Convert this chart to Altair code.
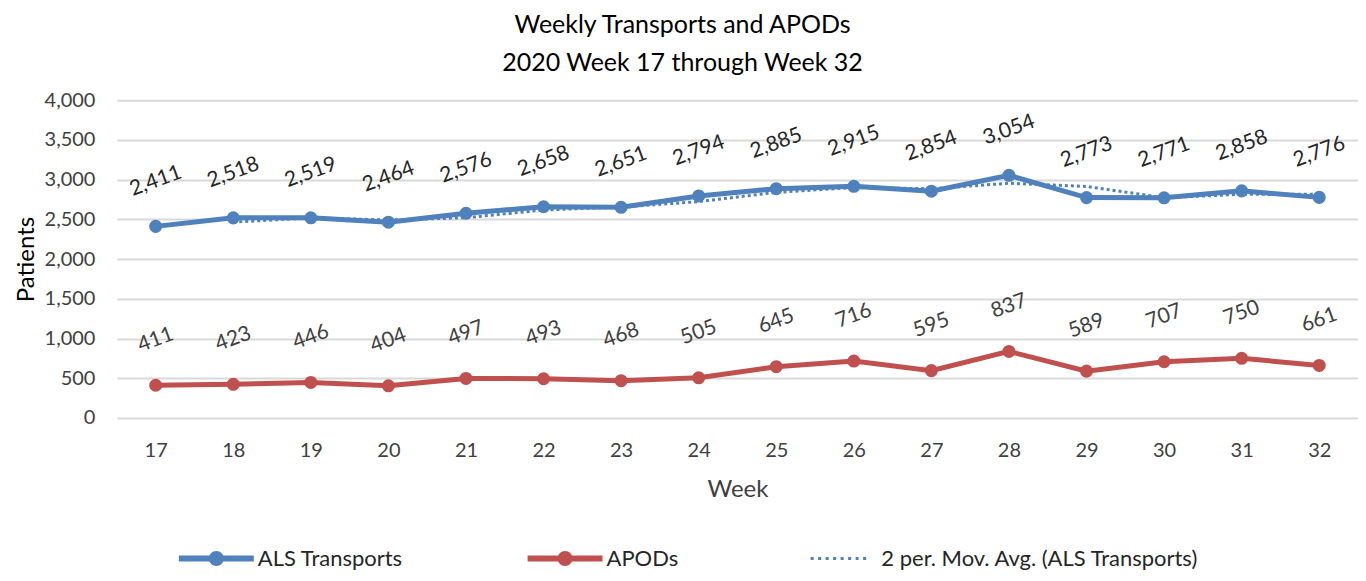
import altair as alt
import pandas as pd

weeks = [17, 18, 19, 20, 21, 22, 23, 24, 25, 26, 27, 28, 29, 30, 31, 32]
als = [2411, 2518, 2519, 2464, 2576, 2658, 2651, 2794, 2885, 2915, 2854, 3054, 2773, 2771, 2858, 2776]
apods = [411, 423, 446, 404, 497, 493, 468, 505, 645, 716, 595, 837, 589, 707, 750, 661]
ma_weeks = [18, 19, 20, 21, 22, 23, 24, 25, 26, 27, 28, 29, 30, 31, 32]
ma_vals = [2464.5, 2518.5, 2491.5, 2520, 2617, 2654.5, 2722.5, 2839.5, 2900, 2884.5, 2954, 2913.5, 2772, 2814.5, 2817]
series_names = ["ALS Transports", "APODs", "2 per. Mov. Avg. (ALS Transports)"]

BLUE = "#4F81BD"
RED = "#C0504D"
FONT = "Lato"

df_als = pd.DataFrame({"week": weeks, "value": als, "series": series_names[0]})
df_apod = pd.DataFrame({"week": weeks, "value": apods, "series": series_names[1]})
df_ma = pd.DataFrame({"week": ma_weeks, "value": ma_vals, "series": series_names[2]})
df_all = pd.concat([df_als, df_apod, df_ma], ignore_index=True)

x_enc = alt.X("week:O", title="Week",
              scale=alt.Scale(domain=weeks, paddingInner=0, paddingOuter=0.5),
              axis=alt.Axis(labelAngle=0, labelFontSize=20, labelColor="#404040",
                            titleFontSize=24, titleColor="#404040", titleFontWeight="normal",
                            labelPadding=23, titlePadding=17, domain=False, ticks=False,
                            grid=False, labelFont=FONT, titleFont=FONT))
y_enc = alt.Y("value:Q", title="Patients",
              scale=alt.Scale(domain=[0, 4000], nice=False),
              axis=alt.Axis(values=list(range(0, 4001, 500)), format=",.0f",
                            labelFontSize=20, labelColor="#404040",
                            titleFontSize=24, titleColor="#000000", titleFontWeight="normal",
                            labelPadding=22, titlePadding=6, domain=False, ticks=False,
                            gridColor="#D9D9D9", gridWidth=2, labelFont=FONT, titleFont=FONT))

def line_layer(df, color, dash=None, width=5):
    kw = dict(color=color, strokeWidth=width)
    if dash:
        kw["strokeDash"] = dash
        kw["strokeCap"] = "butt"
    return alt.Chart(df).mark_line(**kw).encode(x=x_enc, y=y_enc)

def point_layer(df, color):
    return alt.Chart(df).mark_point(filled=True, size=170, opacity=1, color=color).encode(
        x=x_enc, y=y_enc)

def label_layer(df, color):
    return alt.Chart(df).mark_text(angle=340, dx=15.5, dy=-42.5, fontSize=21, font=FONT,
                                   color=color, align="center", baseline="middle").encode(
        x=x_enc, y=y_enc, text=alt.Text("value:Q", format=",.0f"))

# legend symbols: line with a marker, and a dotted line
line_marker_path = ("M-1,-0.08 L1,-0.08 L1,0.08 L-1,0.08 Z "
                    "M-0.2,0 A0.2,0.2 0 1,1 0.2,0 A0.2,0.2 0 1,1 -0.2,0 Z")
dots = []
xpos = -0.78
while xpos < 0.8:
    dots.append(f"M{xpos:.3f},-0.04 L{xpos+0.08:.3f},-0.04 L{xpos+0.08:.3f},0.04 L{xpos:.3f},0.04 Z")
    xpos += 0.2
dotted_path = " ".join(dots)

legend_layer = alt.Chart(df_all).mark_point(filled=True, opacity=0).encode(
    x=x_enc, y=y_enc,
    color=alt.Color("series:N",
                    scale=alt.Scale(domain=series_names, range=[BLUE, RED, BLUE]),
                    legend=alt.Legend(title=None, orient="none", direction="horizontal",
                                      legendX=62, legendY=421,
                                      symbolSize=5625, symbolOpacity=1, symbolStrokeWidth=0,
                                      labelFontSize=22, labelFont=FONT, labelColor="#262626",
                                      labelOffset=4, columnPadding=124, labelLimit=500)),
    shape=alt.Shape("series:N",
                    scale=alt.Scale(domain=series_names,
                                    range=[line_marker_path, line_marker_path, dotted_path]),
                    legend=None),
)

chart = alt.layer(
    line_layer(df_ma, BLUE, dash=[3, 3], width=3),
    line_layer(df_als, BLUE),
    line_layer(df_apod, RED),
    point_layer(df_als, BLUE),
    point_layer(df_apod, RED),
    label_layer(df_als, "#262626"),
    label_layer(df_apod, "#404040"),
    legend_layer,
).properties(
    width=1242, height=318,
    title=alt.TitleParams(["Weekly Transports and APODs", "2020 Week 17 through Week 32"],
                          fontSize=25, font=FONT, fontWeight="normal", color="#000000",
                          lineHeight=38, anchor="middle", dx=-55, offset=14),
    autosize=alt.AutoSizeParams(type="none"),
    padding={"left": 109, "top": 92, "right": 0, "bottom": 155},
).configure_view(stroke=None)

chart.save("out.html", embed_options={"renderer": "svg", "actions": False})
